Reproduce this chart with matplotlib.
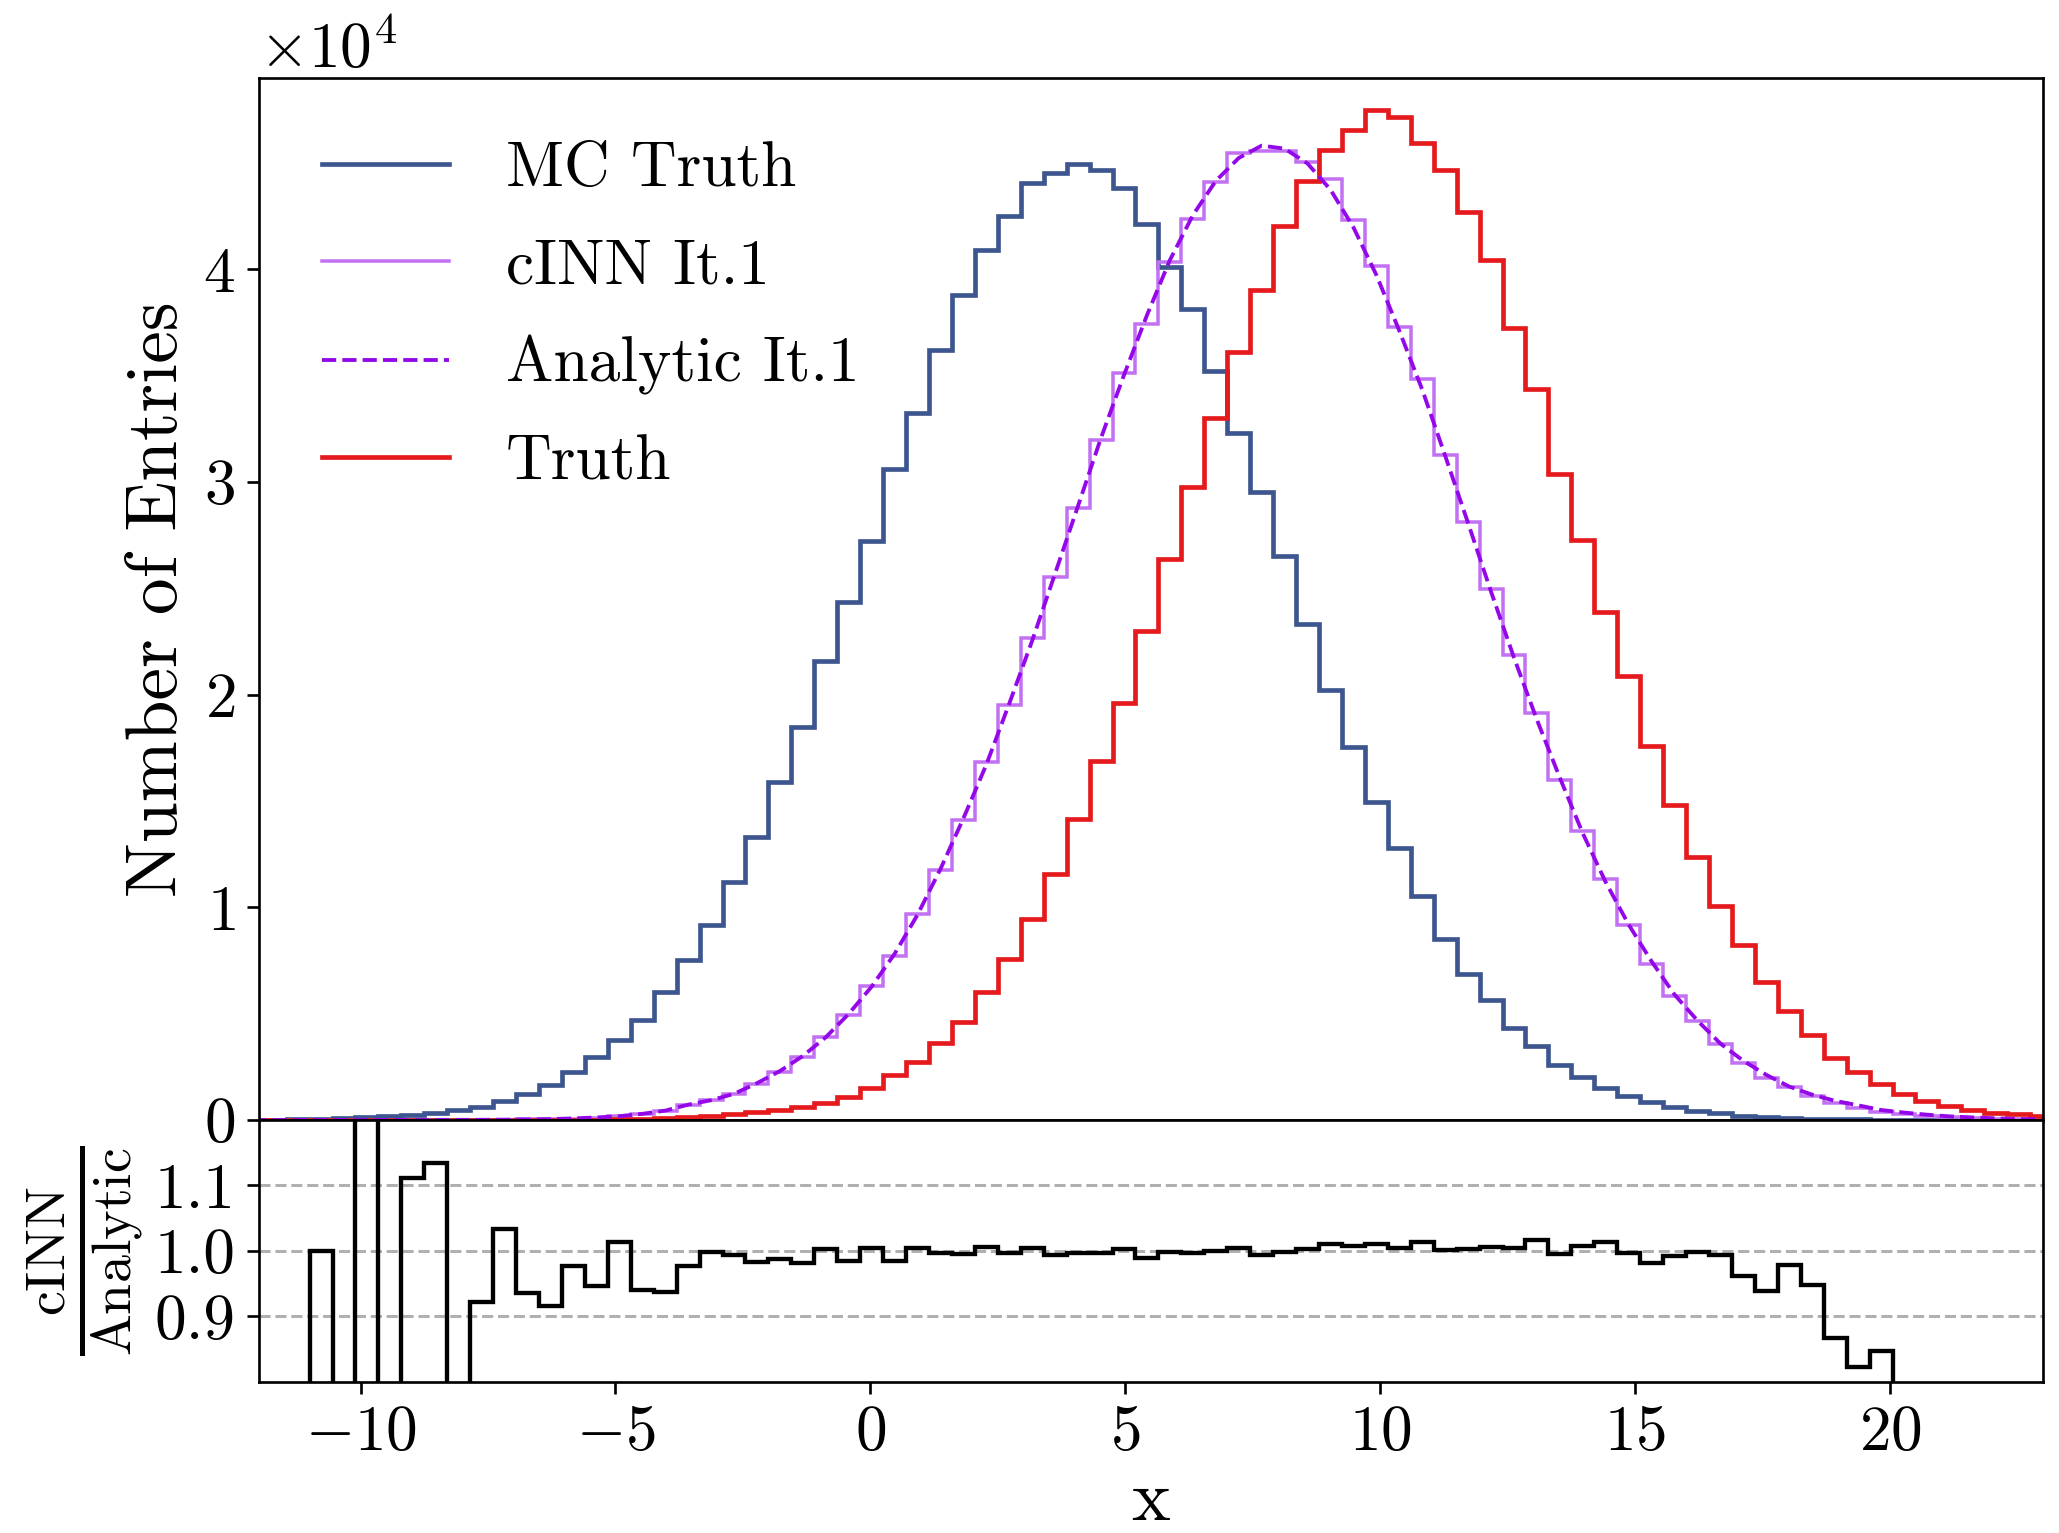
import numpy as np
import matplotlib
matplotlib.use("Agg")
import matplotlib.pyplot as plt

plt.rcParams.update({
    "font.family": "serif",
    "font.serif": ["cmr10"],
    "mathtext.fontset": "cm",
    "axes.formatter.use_mathtext": True,
    "axes.unicode_minus": True,
})

# bin edges (width 0.45), 80 bins covering the visible range -12..23
edges = np.round(-12.35 + 0.45 * np.arange(81), 4)

# bin contents in units of 1e4 entries
mc_truth = [
    0.001, 0.002, 0.003, 0.005, 0.008, 0.012, 0.017, 0.022, 0.032, 0.047,
    0.060, 0.089, 0.122, 0.166, 0.224, 0.294, 0.376, 0.472, 0.601, 0.754,
    0.917, 1.118, 1.329, 1.589, 1.848, 2.159, 2.435, 2.722, 3.062, 3.325,
    3.619, 3.876, 4.088, 4.250, 4.403, 4.451, 4.493, 4.466, 4.383, 4.214,
    4.011, 3.813, 3.522, 3.230, 2.951, 2.651, 2.332, 2.022, 1.751, 1.497,
    1.279, 1.053, 0.850, 0.684, 0.562, 0.432, 0.347, 0.260, 0.202, 0.150,
    0.113, 0.083, 0.062, 0.044, 0.031, 0.021, 0.015, 0.010, 0.007, 0.005,
    0.003, 0.002, 0.001, 0.001, 0.001, 0.0, 0.0, 0.0, 0.0, 0.0,
]
cinn_it1 = [
    0.0, 0.0, 0.0, 0.0002, 0.0, 0.0003, 0.0, 0.0005, 0.0008, 0.0,
    0.001, 0.002, 0.003, 0.004, 0.007, 0.011, 0.017, 0.027, 0.041, 0.070,
    0.093, 0.122, 0.170, 0.227, 0.296, 0.390, 0.492, 0.630, 0.769, 0.970,
    1.176, 1.411, 1.681, 1.950, 2.265, 2.552, 2.876, 3.197, 3.513, 3.741,
    4.034, 4.236, 4.410, 4.545, 4.553, 4.557, 4.505, 4.421, 4.230, 4.016,
    3.729, 3.481, 3.125, 2.811, 2.498, 2.184, 1.913, 1.600, 1.358, 1.132,
    0.915, 0.732, 0.584, 0.466, 0.357, 0.267, 0.199, 0.154, 0.113, 0.078,
    0.057, 0.040, 0.029, 0.020, 0.013, 0.009, 0.006, 0.004, 0.002, 0.001,
]
analytic_it1 = [
    0.0, 0.0, 0.0001, 0.0001, 0.0002, 0.0003, 0.0004, 0.0005, 0.0006, 0.0008,
    0.001, 0.0017, 0.0028, 0.0045, 0.0075, 0.012, 0.018, 0.029, 0.044, 0.072,
    0.093, 0.123, 0.173, 0.230, 0.301, 0.389, 0.499, 0.627, 0.781, 0.965,
    1.180, 1.418, 1.671, 1.958, 2.254, 2.570, 2.888, 3.207, 3.502, 3.783,
    4.042, 4.253, 4.414, 4.522, 4.580, 4.566, 4.496, 4.373, 4.196, 3.972,
    3.710, 3.433, 3.122, 2.805, 2.483, 2.173, 1.881, 1.608, 1.347, 1.117,
    0.918, 0.745, 0.589, 0.467, 0.359, 0.278, 0.212, 0.157, 0.119, 0.090,
    0.069, 0.047, 0.035, 0.025, 0.017, 0.012, 0.008, 0.005, 0.003, 0.002,
]
truth = [
    0.0, 0.0, 0.0, 0.0, 0.0, 0.0, 0.0, 0.0003, 0.0005, 0.0008,
    0.001, 0.0015, 0.002, 0.001, 0.0015, 0.002, 0.003, 0.005, 0.008, 0.012,
    0.018, 0.026, 0.036, 0.047, 0.060, 0.079, 0.108, 0.150, 0.210, 0.275,
    0.364, 0.461, 0.600, 0.756, 0.943, 1.156, 1.415, 1.686, 1.961, 2.300,
    2.637, 2.974, 3.301, 3.612, 3.900, 4.200, 4.412, 4.559, 4.653, 4.749,
    4.717, 4.591, 4.465, 4.268, 4.043, 3.723, 3.436, 3.037, 2.726, 2.389,
    2.087, 1.759, 1.481, 1.237, 1.007, 0.821, 0.648, 0.511, 0.401, 0.291,
    0.226, 0.167, 0.123, 0.091, 0.065, 0.046, 0.033, 0.026, 0.018, 0.012,
]

# cINN / Analytic per bin, bins from x = -11 to 20.05
ratio = [
    1.000, 0.0, 1.500, 0.0, 1.112, 1.135, 0.0, 0.921, 1.034, 0.935,
    0.915, 0.977, 0.946, 1.013, 0.940, 0.937, 0.977, 0.998, 0.993, 0.983,
    0.988, 0.982, 1.002, 0.985, 1.004, 0.985, 1.005, 0.997, 0.995, 1.006,
    0.996, 1.005, 0.993, 0.996, 0.997, 1.003, 0.989, 0.998, 0.996, 0.999,
    1.005, 0.994, 0.998, 1.002, 1.011, 1.008, 1.011, 1.005, 1.014, 1.001,
    1.002, 1.006, 1.005, 1.017, 0.995, 1.008, 1.013, 0.997, 0.982, 0.992,
    0.998, 0.994, 0.961, 0.938, 0.979, 0.948, 0.866, 0.823, 0.846,
]
ratio_edges = edges[3:3 + len(ratio) + 1]

scale = 1e4
centers = 0.5 * (edges[:-1] + edges[1:])

fig = plt.figure(figsize=(2059 / 240, 1533 / 240), dpi=240)
ax = fig.add_axes([0.1256, 0.2694, 0.8666, 0.6800])
axr = fig.add_axes([0.1256, 0.0988, 0.8666, 0.1706], sharex=ax)

ax.stairs(np.array(mc_truth) * scale, edges, color="#3d568f", lw=1.4,
          label="MC Truth")
ax.stairs(np.array(cinn_it1) * scale, edges, color="#c271f2", lw=1.05,
          label="cINN It.1")
ax.plot(centers, np.array(analytic_it1) * scale, color="#9307e8", lw=1.15,
        ls="--", label="Analytic It.1")
ax.stairs(np.array(truth) * scale, edges, color="#e41a1c", lw=1.4,
          label="Truth")

ax.set_xlim(-12, 23)
ax.set_ylim(0, 4.9e4)
ax.ticklabel_format(style="sci", axis="y", scilimits=(0, 0))
ax.tick_params(axis="x", bottom=False, labelbottom=False)
ax.tick_params(axis="y", labelsize=19)
ax.yaxis.get_offset_text().set_fontsize(19)
ax.set_ylabel("Number of Entries", fontsize=22)
ax.yaxis.set_label_coords(-0.038, 0.5)
ax.legend(loc="upper left", bbox_to_anchor=(0.0, 1.0), frameon=False,
          fontsize=19, handlelength=2.0, handletextpad=0.9,
          labelspacing=0.62, borderaxespad=0.6)

for yv in (0.9, 1.0, 1.1):
    axr.axhline(yv, color="#b0b0b0", lw=0.9, ls="--", zorder=0)
axr.stairs(ratio, ratio_edges, baseline=0, color="black", lw=1.3)
axr.set_ylim(0.8, 1.2)
axr.set_yticks([0.9, 1.0, 1.1])
axr.set_yticklabels(["0.9", "1.0", "1.1"])
axr.set_xticks([-10, -5, 0, 5, 10, 15, 20])
axr.tick_params(labelsize=19)
axr.set_ylabel(r"$\frac{\mathrm{cINN}}{\mathrm{Analytic}}$", fontsize=24)
axr.yaxis.set_label_coords(-0.063, 0.5)
axr.set_xlabel("x", fontsize=22, labelpad=2)

fig.savefig("out.png", dpi=240)
